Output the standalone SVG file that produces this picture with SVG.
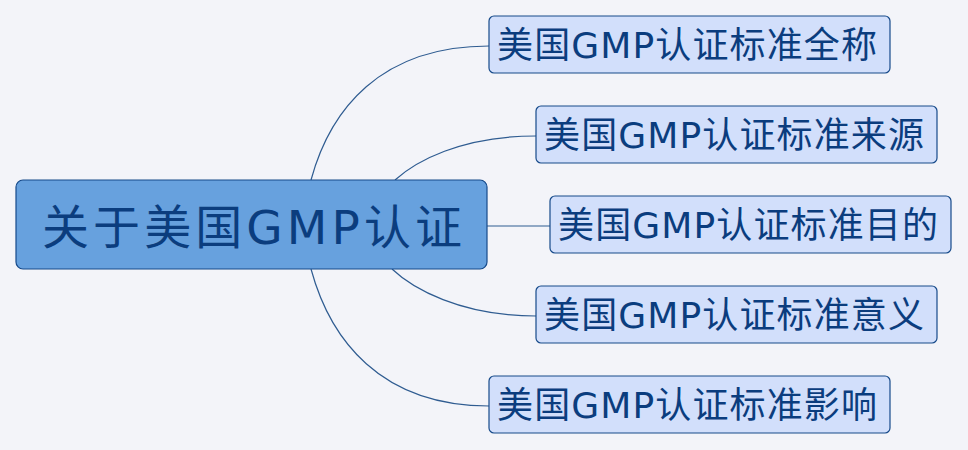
<svg xmlns="http://www.w3.org/2000/svg" width="968" height="450" viewBox="0 0 968 450">
<style>
.bg{fill:#f3f4f9}
.root{fill:#67a1de;stroke:#164a8a;stroke-width:1.2}
.child{fill:#d2dffb;stroke:#164a8a;stroke-width:1.2}
.t{font-family:"DejaVu Sans","Noto Sans CJK SC",sans-serif;fill:#0b3d7e;text-anchor:middle}
.rt{font-size:47px}
.ct{font-size:36px}
.conn{fill:none;stroke:#2f5c91;stroke-width:1.2}
</style>
<rect class="bg" x="0" y="0" width="968" height="450"/>
<g id="connectors">
<path class="conn" d="M311,180 C330,110 380,46 489,46"/>
<path class="conn" d="M395,180 C415,162 460,136 536,136"/>
<path class="conn" d="M487,226 L550,226"/>
<path class="conn" d="M392,269 C412,288 460,316 536,316"/>
<path class="conn" d="M311,269 C330,339 380,406 489,406"/>
</g>
<g id="root">
<rect class="root" x="16" y="180" width="471" height="89" rx="7"/>
<text class="t rt" x="252" y="244" textLength="420" lengthAdjust="spacing">关于美国GMP认证</text>
</g>
<g id="n1">
<rect class="child" x="489" y="16" width="401" height="57" rx="5"/>
<text class="t ct" x="687" y="58" textLength="380" lengthAdjust="spacing">美国GMP认证标准全称</text>
</g>
<g id="n2">
<rect class="child" x="536" y="106" width="401" height="57" rx="5"/>
<text class="t ct" x="734" y="148" textLength="380" lengthAdjust="spacing">美国GMP认证标准来源</text>
</g>
<g id="n3">
<rect class="child" x="550" y="196" width="401" height="57" rx="5"/>
<text class="t ct" x="748" y="238" textLength="380" lengthAdjust="spacing">美国GMP认证标准目的</text>
</g>
<g id="n4">
<rect class="child" x="536" y="286" width="401" height="57" rx="5"/>
<text class="t ct" x="734" y="328" textLength="380" lengthAdjust="spacing">美国GMP认证标准意义</text>
</g>
<g id="n5">
<rect class="child" x="489" y="376" width="401" height="57" rx="5"/>
<text class="t ct" x="687" y="418" textLength="380" lengthAdjust="spacing">美国GMP认证标准影响</text>
</g>
</svg>
